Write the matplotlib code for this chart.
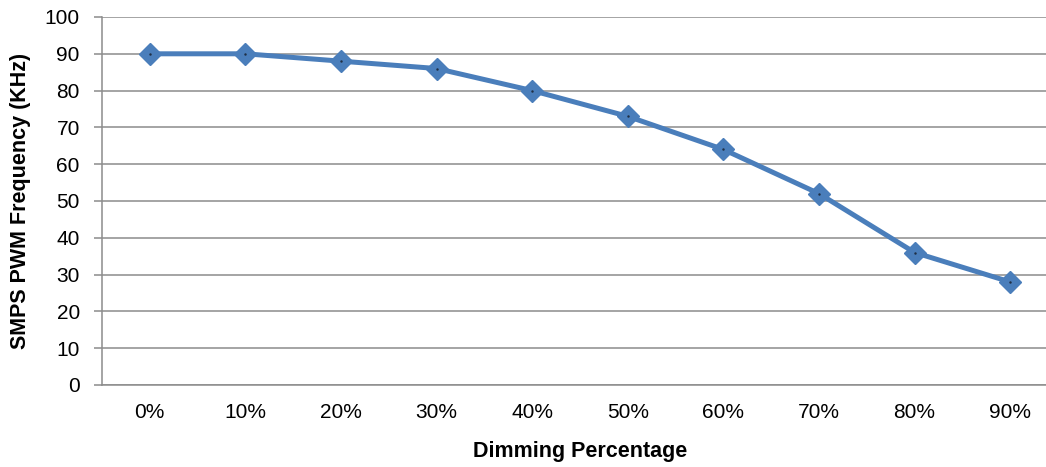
import matplotlib.pyplot as plt

dimming = ["0%", "10%", "20%", "30%", "40%", "50%", "60%", "70%", "80%", "90%"]
frequency = [90, 90, 88, 86, 80, 73, 64, 52, 36, 28]

plt.rcParams["font.family"] = ["Liberation Sans", "DejaVu Sans"]

fig = plt.figure(figsize=(10.46, 4.67), dpi=100)
ax = fig.add_axes([0.0975, 0.1756, 0.914, 0.788])

x = list(range(len(dimming)))
ax.plot(x, frequency, color="#4a7ebb", linewidth=3.6, marker="D",
        markersize=11.5, markerfacecolor="#4a7ebb", markeredgecolor="#4a7ebb",
        solid_joinstyle="round", zorder=3)
ax.plot(x, frequency, linestyle="none", marker=".", markersize=1.5,
        color="#1f2f45", zorder=4)

ax.set_xlim(-0.5, len(dimming) - 0.5)
ax.set_ylim(0, 100)
ax.set_yticks(range(0, 101, 10))
ax.set_xticks(x)
ax.set_xticklabels(dimming)

ax.grid(axis="y", color="#8c8c8c", linewidth=1.1)
ax.set_axisbelow(True)
for side in ["top", "right"]:
    ax.spines[side].set_visible(False)
for side in ["left", "bottom"]:
    ax.spines[side].set_color("#8c8c8c")
    ax.spines[side].set_linewidth(1.1)

ax.tick_params(axis="y", length=6, width=1.1, color="#8c8c8c", pad=10,
               labelsize=15)
ax.tick_params(axis="x", length=0, pad=13, labelsize=15)

ax.set_xlabel("Dimming Percentage", fontsize=15.5, fontweight="bold", labelpad=14)
ax.set_ylabel("SMPS PWM Frequency (KHz)", fontsize=15.5, fontweight="bold",
              labelpad=10)

fig.savefig("out.png", dpi=100)
